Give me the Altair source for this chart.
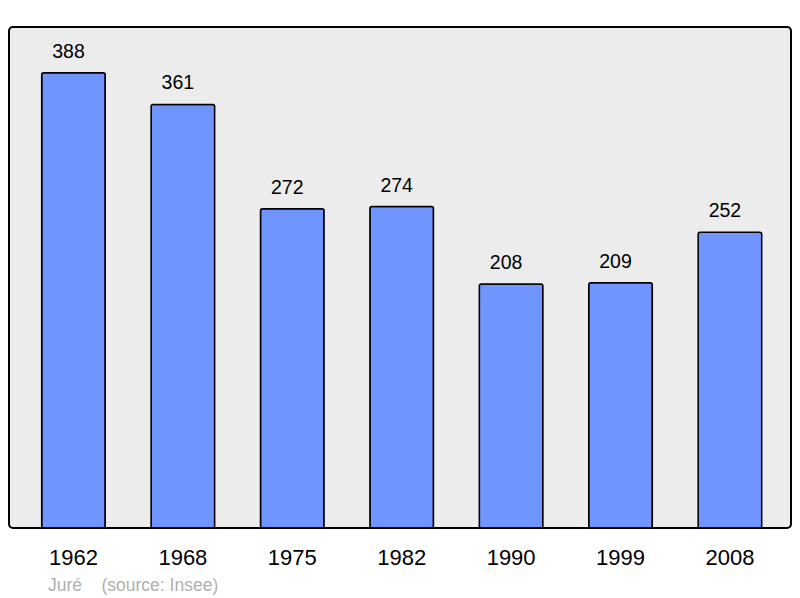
import altair as alt
import pandas as pd

years = ["1962", "1968", "1975", "1982", "1990", "1999", "2008"]
population = [388, 361, 272, 274, 208, 209, 252]
footer = "Juré\u00a0\u00a0\u00a0\u00a0(source: Insee)"

df = pd.DataFrame({"year": years, "pop": population})

FONT = "Liberation Sans"

x = alt.X("year:N", sort=years, title=None,
          scale=alt.Scale(paddingInner=0.419, paddingOuter=0.285, range=[1.5, 783.9]),
          axis=alt.Axis(labelAngle=0, labelFontSize=22, labelFont=FONT, labelColor="#000000",
                        ticks=False, domain=False, labelPadding=36, labelBaseline="alphabetic"))
y = alt.Y("pop:Q", title=None, axis=None, scale=alt.Scale(domain=[0, 427], nice=False, zero=True))

bars = alt.Chart(df).mark_bar(fill="#7095ff", stroke="#000000", strokeWidth=1.5, cornerRadius=2).encode(x=x, y=y)
labels = alt.Chart(df).mark_text(fontSize=19.5, font=FONT, color="#000000", dy=-15, dx=-5,
                                 baseline="alphabetic").encode(x=x, y=y, text="pop:Q")
foot = alt.Chart(pd.DataFrame({"t": [footer]})).mark_text(
    fontSize=17.5, font=FONT, color="#b0b0b0", align="left", baseline="alphabetic").encode(
    x=alt.value(39), y=alt.value(564), text="t:N")

chart = alt.layer(bars, labels, foot).properties(
    width=782, height=501, padding={"left": 1, "top": 19, "right": 0, "bottom": 0},
    background="#ffffff"
).configure_view(fill="#ececec", stroke="#000000", strokeWidth=2, cornerRadius=4)

chart.save("out.html", embed_options={"renderer": "svg", "actions": False})
